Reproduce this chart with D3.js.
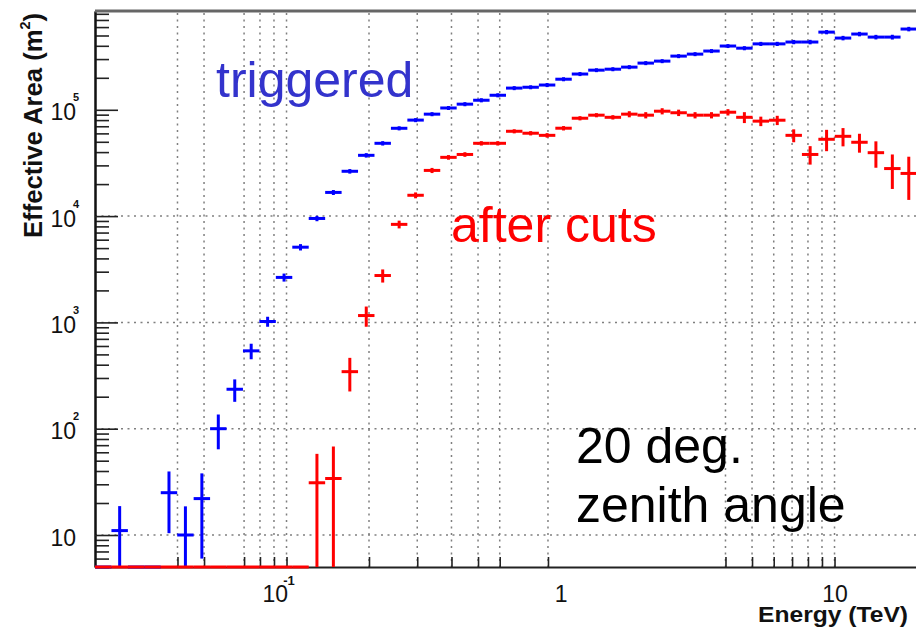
<!DOCTYPE html>
<html>
<head>
<meta charset="utf-8">
<script src="https://cdn.jsdelivr.net/npm/d3@7"></script>
<style>
  body { margin: 0; background: #fff; }
  svg { display: block; font-family: "Liberation Sans", Arial, Helvetica, sans-serif; }
</style>
</head>
<body>
<svg id="chart" width="916" height="628"></svg>
<script>

// histogram: 50 log bins between 0.02 and 20 TeV
var nBins = 50, eMin = 0.02, eMax = 20;

// effective area (m^2) per bin
var triggered = [0, 11, 0, 0, 25, 10, 22, 100, 235, 540,
  1020, 2650, 5100, 9500, 16700, 26400, 37300, 48400, 67000, 80000,
  91000, 104000, 113000, 123000, 137000, 160000, 163000, 171000, 194000, 217000,
  236000, 241000, 252000, 275000, 287000, 320000, 334000, 357000, 398000, 380000,
  417000, 417000, 434000, 434000, 538000, 473000, 516000, 483000, 483000, 575000];
var triggeredErr = [0, 7.7, 0, 0, 14.6, 8.6, 16, 36, 56, 90,
  110, 230, 350, 550, 900, 1300, 1800, 2300, 3000, 3500,
  4000, 4500, 5000, 5500, 6000, 7000, 7000, 7500, 8500, 9500,
  10000, 10500, 11000, 12000, 12500, 14000, 14500, 15500, 17000, 17000,
  18500, 19000, 20000, 21000, 25000, 23000, 25000, 24000, 25000, 28000];

var afterCuts = [0, 0, 0, 0, 0, 0, 0, 0, 0, 0,
  0, 0, 0, 31, 34, 344, 1160, 2760, 8360, 15700,
  26900, 35700, 38000, 48400, 48400, 62800, 60200, 57500, 67100, 83300,
  89000, 85000, 91000, 89000, 97000, 93800, 89000, 89000, 94900, 85000,
  78200, 79800, 57500, 38000, 52800, 56300, 49500, 39500, 28000, 25200];
var afterCutsErr = [0, 0, 0, 0, 0, 0, 0, 0, 0, 0,
  0, 0, 0, 27, 34, 120, 250, 390, 700, 1000,
  1500, 1800, 1900, 2300, 2300, 2800, 2800, 2800, 3200, 3800,
  4000, 4000, 6000, 6000, 6500, 6500, 6000, 6000, 6500, 10000,
  8000, 8000, 8000, 7500, 12000, 11000, 10000, 11000, 10000, 11000];

// grid lines / ticks as they appear in the picture
var gridE = [0.04, 0.05, 0.07, 0.08, 0.09, 0.1, 0.2, 0.3, 0.4, 0.5, 0.6, 0.9, 4, 5, 6, 7, 8, 9, 10];
var gridA = [10, 100, 1000, 10000];
var xLabels = [0.1, 1, 10];
var yLabels = [10, 100, 1000, 10000, 100000];

(function () {
var svg = d3.select("#chart");
var pL = 95, pR = 917, pT = 11, pB = 567;

var x = d3.scaleLog().domain([eMin, eMax]).range([pL, pR]);
var y = d3.scaleLog().domain([5, 8.5e5]).range([pB, pT]);

var step = (Math.log10(eMax) - Math.log10(eMin)) / nBins;
var bins = d3.range(nBins).map(function (i) {
  var lo = eMin * Math.pow(10, i * step), hi = eMin * Math.pow(10, (i + 1) * step);
  return { i: i, lo: lo, hi: hi, c: Math.sqrt(lo * hi) };
});

svg.append("defs").append("clipPath").attr("id", "clip")
  .append("rect").attr("x", pL).attr("y", pT).attr("width", pR - pL).attr("height", pB - pT + 2);

// grid
var grid = svg.append("g").attr("stroke", "#555").attr("stroke-width", 1.5)
  .attr("stroke-dasharray", "2,4.5").attr("opacity", 0.75);
grid.selectAll(".gx").data(gridE).enter().append("line")
  .attr("x1", function (d) { return x(d); }).attr("x2", function (d) { return x(d); })
  .attr("y1", pT + 2).attr("y2", pB);
grid.selectAll(".gy").data(gridA).enter().append("line")
  .attr("x1", pL).attr("x2", pR)
  .attr("y1", function (d) { return y(d); }).attr("y2", function (d) { return y(d); });

// axes
var yMajor = d3.axisLeft(y).tickValues(yLabels).tickSizeInner(-23).tickSizeOuter(0)
  .tickPadding(19).tickFormat(function () { return "10"; });
var yMinor = d3.axisLeft(y).tickValues(y.ticks().filter(function (d) {
  return Math.abs(Math.log10(d) - Math.round(Math.log10(d))) > 1e-6;
})).tickSizeInner(-14).tickSizeOuter(0).tickFormat("");

var gyMinor = svg.append("g").attr("transform", "translate(" + pL + ",0)").call(yMinor);
var gy = svg.append("g").attr("transform", "translate(" + pL + ",0)").call(yMajor);
[gy, gyMinor].forEach(function (g) {
  g.selectAll("line").attr("stroke", "#222").attr("stroke-width", 1.6);
  g.select(".domain").attr("stroke", "#111").attr("stroke-width", 2);
});
gy.selectAll("text").attr("dy", null).attr("y", 10)
  .attr("font-size", 23).attr("fill", "#111");
gy.selectAll(".tick").filter(function (d) { return d !== 10; })
  .append("text").attr("x", -16).attr("y", -9).attr("font-size", 11)
  .attr("font-weight", "bold").attr("fill", "#111")
  .text(function (d) { return Math.round(Math.log10(d)); });

var xTicks = d3.axisBottom(x).tickValues(gridE).tickSizeInner(-10).tickSizeOuter(0).tickFormat("");
var gx = svg.append("g").attr("transform", "translate(0," + pB + ")").call(xTicks);
gx.selectAll("line").attr("stroke", "#222").attr("stroke-width", 1.6);
gx.select(".domain").attr("stroke", "#222").attr("stroke-width", 2);

var xLab = d3.axisBottom(x).tickValues(xLabels).tickSize(0).tickFormat(function (d) { return d === 1 ? "1" : "10"; });
var gxl = svg.append("g").attr("transform", "translate(0," + pB + ")").call(xLab);
gxl.select(".domain").remove();
gxl.selectAll("text").attr("dy", null).attr("y", 35).attr("font-size", 23).attr("fill", "#111")
  .attr("text-anchor", function (d) { return d < 1 ? "end" : "middle"; })
  .attr("x", function (d) { return d < 1 ? 1 : 0; });
gxl.selectAll(".tick").filter(function (d) { return d < 1; })
  .append("text").attr("x", 2).attr("y", 18).attr("font-size", 13).attr("font-weight", "bold")
  .attr("fill", "#111").text(function (d) { return Math.round(Math.log10(d)); });

// top frame line
svg.append("line").attr("x1", pL).attr("x2", pR).attr("y1", pT).attr("y2", pT)
  .attr("stroke", "#666").attr("stroke-width", 3);

// data
function drawSeries(vals, errs, color) {
  var g = svg.append("g").attr("clip-path", "url(#clip)")
    .attr("stroke", color).attr("stroke-width", 3);
  g.selectAll(".h").data(bins).enter().append("line")
    .attr("x1", function (b) { return x(b.lo); }).attr("x2", function (b) { return x(b.hi); })
    .attr("y1", function (b) { return vals[b.i] > 0 ? y(vals[b.i]) : pB; })
    .attr("y2", function (b) { return vals[b.i] > 0 ? y(vals[b.i]) : pB; });
  g.selectAll(".v").data(bins.filter(function (b) { return vals[b.i] > 0 && errs[b.i] > 0; }))
    .enter().append("line")
    .attr("x1", function (b) { return x(b.c); }).attr("x2", function (b) { return x(b.c); })
    .attr("y1", function (b) { var lo = vals[b.i] - errs[b.i]; return lo > 5 ? y(lo) : pB; })
    .attr("y2", function (b) { return y(vals[b.i] + errs[b.i]); });
}
drawSeries(triggered, triggeredErr, "#0000ff");
drawSeries(afterCuts, afterCutsErr, "#ff0000");

// axis titles
svg.append("text").attr("transform", "translate(42,238) rotate(-90)")
  .attr("font-size", 25).attr("font-weight", "bold").attr("fill", "#111")
  .attr("textLength", 225).attr("lengthAdjust", "spacingAndGlyphs")
  .text("Effective Area (m")
  .call(function (t) {
    t.append("tspan").attr("font-size", 14).attr("dy", -12).text("2");
    t.append("tspan").attr("dy", 12).text(")");
  });
svg.append("text").attr("x", 908).attr("y", 622).attr("text-anchor", "end")
  .attr("font-size", 22).attr("font-weight", "bold").attr("fill", "#111")
  .attr("textLength", 150).attr("lengthAdjust", "spacingAndGlyphs")
  .text("Energy (TeV)");

// annotations
var notes = svg.append("g").attr("font-size", 50);
notes.append("text").attr("x", 216).attr("y", 97).attr("fill", "#3333cc").text("triggered");
notes.append("text").attr("x", 451).attr("y", 242).attr("fill", "#ff0000").text("after cuts");
notes.append("text").attr("x", 576).attr("y", 463).attr("fill", "#000").text("20 deg.");
notes.append("text").attr("x", 576).attr("y", 522).attr("fill", "#000").text("zenith angle");
})();

</script>
</body>
</html>
